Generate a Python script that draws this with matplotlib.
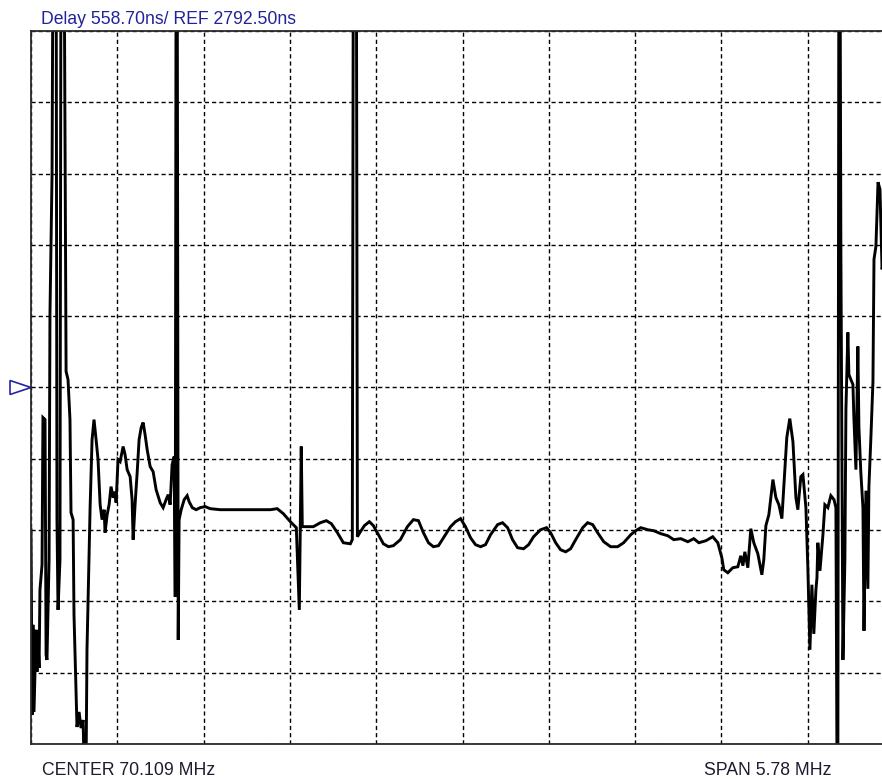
import numpy as np
import matplotlib
matplotlib.use("Agg")
from matplotlib import pyplot as plt
from matplotlib.patches import Polygon
import matplotlib.transforms as mtransforms

# analyzer settings
center_mhz = 70.109
span_mhz = 5.78
ref_ns = 2792.50
scale_ns = 558.70
ref_div = 5  # reference line sits on the 5th division

# trace, lower skirt (MHz / ns); 6500 and -150 are off-screen values
low_freq = [67.219, 67.226, 67.232, 67.239, 67.253, 67.259, 67.266, 67.273, 67.279, 67.293,
            67.299, 67.313, 67.320, 67.326, 67.340, 67.346, 67.360, 67.367, 67.387, 67.393,
            67.400, 67.413, 67.420, 67.440, 67.454, 67.467, 67.480, 67.487, 67.501, 67.507,
            67.527, 67.541, 67.554, 67.568, 67.574, 67.588, 67.594, 67.608, 67.615, 67.628,
            67.641, 67.655, 67.668, 67.682, 67.695, 67.709, 67.715, 67.729, 67.742, 67.755,
            67.769, 67.782, 67.789, 67.802, 67.816, 67.836, 67.849, 67.863, 67.883, 67.896,
            67.903, 67.916, 67.930, 67.943, 67.957, 67.970, 67.983, 67.997, 68.017, 68.037,
            68.057, 68.084, 68.104, 68.124, 68.138, 68.151, 68.164, 68.178, 68.185, 68.191,
            68.198, 68.205, 68.211, 68.225, 68.245, 68.265, 68.278, 68.299, 68.325, 68.352]
low_delay = [1678, 227, 933, 250, 894, 564, 815, 595, 1207, 1404,
             2557, 2541, 697, 658, 1443, 3365, 4464, 6500, 6500, 1757,
             1050, 1443, 6500, 6500, 2918, 2855, 2541, 1812, 1757, 1011,
             132, 250, 124, 187, -150, -150, 737, 1498, 1859, 2384,
             2541, 2384, 2228, 1874, 1757, 1835, 1655, 1796, 1874, 2016,
             1929, 1976, 1890, 2228, 2212, 2330, 2267, 2149, 2094, 1914,
             1600, 1874, 2125, 2384, 2479, 2518, 2424, 2306, 2173, 2133,
             1992, 1890, 1851, 1914, 1953, 1874, 2188, 2251, 1152, 6500,
             6500, 815, 1757, 1835, 1914, 1945, 1898, 1851, 1835, 1851]

# trace, passband with ripple
pass_freq = [68.386, 68.419, 68.486, 68.620, 68.734, 68.822, 68.868, 68.909, 68.956, 68.996,
             69.016, 69.023, 69.029, 69.036, 69.110, 69.157, 69.197, 69.231, 69.271, 69.311,
             69.358, 69.371, 69.378, 69.398, 69.405, 69.425, 69.452, 69.485, 69.512, 69.546,
             69.579, 69.613, 69.646, 69.693, 69.740, 69.780, 69.814, 69.847, 69.881, 69.914,
             69.948, 69.982, 70.029, 70.062, 70.096, 70.129, 70.163, 70.196, 70.230, 70.263,
             70.297, 70.344, 70.377, 70.411, 70.444, 70.478, 70.518, 70.552, 70.585, 70.632,
             70.672, 70.699, 70.733, 70.766, 70.800, 70.833, 70.867, 70.914, 70.947, 70.981,
             71.014, 71.055, 71.101, 71.148, 71.188, 71.236, 71.269, 71.303, 71.350, 71.390,
             71.437, 71.484, 71.524, 71.571, 71.618, 71.658, 71.692, 71.739, 71.785, 71.819]
pass_delay = [1859, 1843, 1835, 1835, 1835, 1835, 1843, 1804, 1741, 1694,
              1050, 1702, 2330, 1702, 1702, 1733, 1749, 1725, 1655, 1576,
              1568, 1600, 6500, 6500, 1623, 1662, 1710, 1741, 1710, 1639,
              1568, 1545, 1553, 1600, 1702, 1757, 1749, 1655, 1576, 1545,
              1553, 1615, 1702, 1741, 1765, 1702, 1615, 1561, 1545, 1561,
              1639, 1718, 1733, 1694, 1600, 1537, 1529, 1561, 1623, 1678,
              1694, 1655, 1576, 1521, 1505, 1529, 1600, 1694, 1733, 1718,
              1655, 1584, 1545, 1545, 1576, 1639, 1670, 1694, 1678, 1670,
              1647, 1631, 1600, 1608, 1584, 1608, 1576, 1592, 1623, 1576]

# trace, upper skirt
high_freq = [71.846, 71.859, 71.886, 71.919, 71.953, 71.973, 71.987, 72.000, 72.020, 72.040,
             72.060, 72.087, 72.114, 72.127, 72.141, 72.161, 72.188, 72.208, 72.228, 72.248,
             72.261, 72.281, 72.301, 72.322, 72.342, 72.355, 72.375, 72.389, 72.409, 72.422,
             72.436, 72.449, 72.462, 72.476, 72.483, 72.489, 72.503, 72.523, 72.536, 72.556,
             72.576, 72.597, 72.610, 72.617, 72.623, 72.630, 72.637, 72.643, 72.657, 72.670,
             72.677, 72.690, 72.697, 72.710, 72.724, 72.730, 72.744, 72.757, 72.764, 72.777,
             72.791, 72.798, 72.811, 72.824, 72.831, 72.845, 72.858, 72.865, 72.878, 72.892,
             72.905, 72.919, 72.946]
high_delay = [1458, 1364, 1341, 1380, 1388, 1474, 1396, 1505, 1380, 1686,
              1576, 1490, 1325, 1443, 1710, 1796, 2071, 1929, 1874, 1765,
              2016, 2400, 2549, 2369, 1929, 1835, 2094, 2110, 1851, 1380,
              737, 1247, 862, 1207, 1302, 1576, 1356, 1639, 1874, 1851,
              1945, 1914, 1851, -150, -150, 6500, 6500, 3915, 658, 1443,
              2620, 3224, 2894, 2855, 2816, 2565, 2149, 3114, 2479, 2125,
              1851, 886, 1984, 1215, 2016, 2424, 2840, 3797, 3899, 4401,
              4346, 3718, 3954]

freq = np.array(low_freq + pass_freq + high_freq)
delay = np.array(low_delay + pass_delay + high_delay)

plt.rcParams['font.family'] = ['Liberation Sans', 'DejaVu Sans']
plt.rcParams['lines.scale_dashes'] = False

W, H = 882, 779
fig = plt.figure(figsize=(W / 100, H / 100), dpi=100)
fig.patch.set_facecolor('white')

# plot area runs past the right edge of the picture
ax = fig.add_axes([31 / W, 35 / H, 863 / W, 713 / H])

f_start = center_mhz - span_mhz / 2
f_stop = center_mhz + span_mhz / 2
y_bot = ref_ns - ref_div * scale_ns
y_top = ref_ns + (10 - ref_div) * scale_ns
ax.set_xlim(f_start, f_stop)
ax.set_ylim(y_bot, y_top)

ax.set_xticks(np.linspace(f_start, f_stop, 11))
ax.set_yticks(np.linspace(y_bot, y_top, 11))
ax.tick_params(length=0, labelbottom=False, labelleft=False)
ax.grid(True, color='black', linewidth=1.0, linestyle=(0, (3.0, 2.2)))

for side in ['left', 'top', 'bottom']:
    ax.spines[side].set_color('#2a2a2a')
    ax.spines[side].set_linewidth(1.3)
ax.spines['right'].set_visible(False)

ax.plot(freq, delay, color='black', linewidth=2.1, solid_joinstyle='miter')

# reference position marker
trans = mtransforms.blended_transform_factory(ax.transAxes, ax.transData)
h = 7 * scale_ns / 71.3
tri = Polygon([[-21 / 863, ref_ns + h], [0, ref_ns], [-21 / 863, ref_ns - h]], closed=True,
              fill=False, edgecolor='#2424a8', linewidth=1.2, transform=trans, clip_on=False)
ax.add_patch(tri)

fig.text(41 / W, 1 - 24 / H, f"Delay {scale_ns:.2f}ns/ REF {ref_ns:.2f}ns",
         color='#22229a', fontsize=12.7, va='baseline', ha='left')
fig.text(42 / W, 4 / H, f"CENTER {center_mhz:.3f} MHz",
         color='#1c1c30', fontsize=12.7, va='baseline', ha='left')
fig.text(704 / W, 4 / H, f"SPAN {span_mhz:.2f} MHz",
         color='#1c1c30', fontsize=12.7, va='baseline', ha='left')

fig.savefig('out.png', dpi=100)
